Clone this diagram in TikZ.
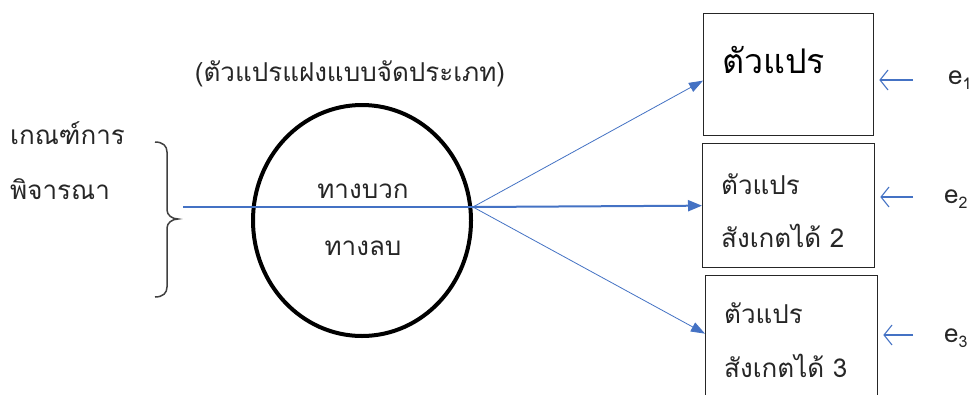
\documentclass[tikz,border=0pt]{standalone}
\usepackage{fontspec}
\newfontfamily\thai[Script=Thai]{Loma}
\usetikzlibrary{arrows.meta,shapes.geometric,calc}
\definecolor{ablue}{RGB}{68,114,196}
\begin{document}
\begin{tikzpicture}[x=1pt,y=-1pt,
  txt/.style={font=\thai\fontsize{26}{30}\selectfont, inner sep=0pt, text=black!85},
  big/.style={font=\thai\fontsize{34}{40}\selectfont, inner sep=0pt, text=black},
  box/.style={draw=black!85, line width=1.3pt, anchor=north west, inner sep=0pt},
  thin/.style={draw=ablue, line width=0.8pt, -{Triangle[length=14pt,width=10pt]}},
  thick/.style={draw=ablue, line width=2pt, -{Triangle[length=14pt,width=11pt]}},
  earr/.style={draw=ablue, line width=1.1pt, -{Straight Barb[length=8pt,width=20pt]}},
  elab/.style={font=\thai\fontsize{26}{30}\selectfont, inner sep=0pt, anchor=west, text=black!85}]
\clip (0,0) rectangle (976,394);
\fill[white] (0,0) rectangle (976,394);

% texts on the left and top
\node[txt, anchor=west] (k1) at (10,133) {เกณฑ์การ};
\node[txt, anchor=west] (k2) at (10,189) {พิจารณา};
\node[txt] (title) at (350,74) {(ตัวแปรแฝงแบบจัดประเภท)};

% brace
\draw[black!75, line width=1.5pt] (155,142) .. controls (163,142) and (167,146) .. (167,152) -- (167,210) .. controls (167,215) and (172,219) .. (178,219) .. controls (172,219) and (167,223) .. (167,228) -- (167,287) .. controls (167,293) and (163,297) .. (155,297);
\coordinate (bt) at (183,207);

% circle
\node[ellipse, draw=black, line width=4pt, minimum width=218pt, minimum height=231pt, inner sep=0pt] (circ) at (362,220.5) {};
\node[txt] (pos) at (363,191) {ทางบวก};
\node[txt] (neg) at (363,248) {ทางลบ};
\coordinate (hub) at (473,207);

% boxes
\node[box, minimum width=170pt, minimum height=122pt] (b1) at (703,13) {};
\node[box, minimum width=172pt, minimum height=124pt] (b2) at (702,143) {};
\node[box, minimum width=172pt, minimum height=140pt] (b3) at (705,275) {};

\node[big, anchor=west] (t1) at (722,60) {ตัวแปร};
\node[txt, anchor=west] (t2a) at (721,184) {ตัวแปร};
\node[txt, anchor=west] (t2b) at (721,236) {สังเกตได้ 2};
\node[txt, anchor=west] (t3a) at (724,313) {ตัวแปร};
\node[txt, anchor=west] (t3b) at (724,366) {สังเกตได้ 3};

% connectors
\draw[ablue, line width=1.5pt] (bt) -- (hub);
\draw[thick] (hub) -- (b2.west);
\draw[thin] (hub) -- ([yshift=-6pt]b1.west);
\draw[thin] (hub) -- ([yshift=12pt]b3.west);

% error terms
\node[elab] (e1) at (948,80) {e\raisebox{-0.35ex}{\fontsize{16}{18}\selectfont 1}};
\node[elab] (e2) at (944,199) {e\raisebox{-0.35ex}{\fontsize{16}{18}\selectfont 2}};
\node[elab] (e3) at (944,338) {e\raisebox{-0.35ex}{\fontsize{16}{18}\selectfont 3}};
\coordinate (e1t) at (913,80);
\coordinate (e2t) at (913,197);
\coordinate (e3t) at (913,335);
\draw[earr] (e1t) -- ([xshift=5pt]b1.east |- e1t);
\draw[earr] (e2t) -- ([xshift=5pt]b2.east |- e2t);
\draw[earr] (e3t) -- ([xshift=5pt]b3.east |- e3t);
\end{tikzpicture}
\end{document}
